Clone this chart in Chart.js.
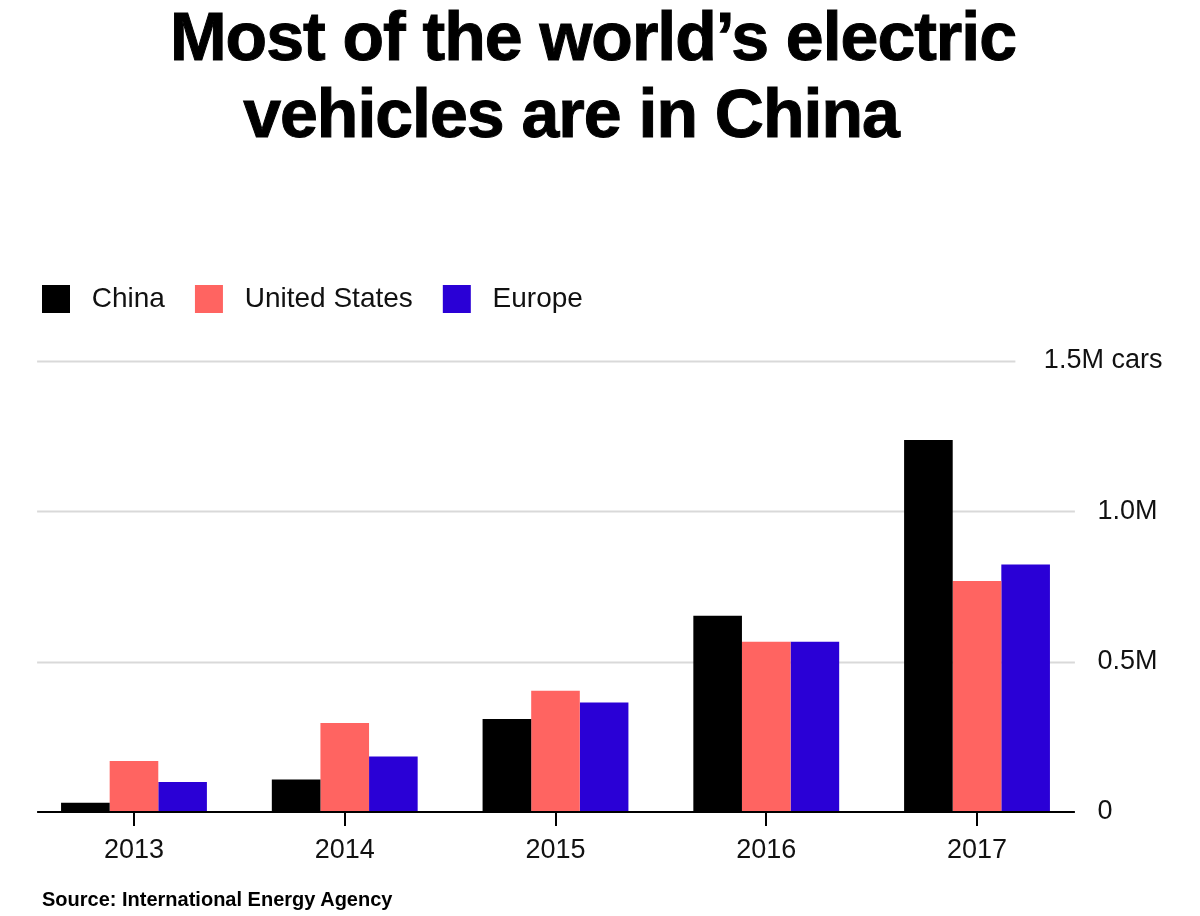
<!DOCTYPE html>
<html>
<head>
<meta charset="utf-8">
<script src="https://cdn.jsdelivr.net/npm/chart.js@4.4.1/dist/chart.umd.min.js"></script>
<style>
  html, body { margin: 0; padding: 0; background: #ffffff; }
  #wrap { position: relative; width: 1200px; height: 916px; overflow: hidden; background: #fff; }
  .title { position: absolute; left: 0; font-family: "Liberation Sans", Arial, sans-serif; font-weight: 700;
           font-size: 68px; line-height: 68px; letter-spacing: -1px; color: #000; text-align: center; white-space: nowrap;
           -webkit-text-stroke: 1px #000; }
  #t1 { top: 2px; width: 1186px; }
  #t2 { top: 79px; width: 1142px; }
  #source { position: absolute; left: 42px; top: 889px; font-family: "Liberation Sans", Arial, sans-serif;
            font-weight: 700; font-size: 20px; line-height: 20px; letter-spacing: 0px; color: #000; white-space: nowrap; }
  canvas { position: absolute; left: 0; top: 0; }
</style>
</head>
<body>
<div id="wrap">
  <canvas id="c" width="1200" height="916"></canvas>
  <div class="title" id="t1">Most of the world’s electric</div>
  <div class="title" id="t2">vehicles are in China</div>
  <div id="source">Source: International Energy Agency</div>
</div>
<script>
// ---- Data (millions of cars) ----
const categories = ['2013', '2014', '2015', '2016', '2017'];
const seriesNames = ['China', 'United States', 'Europe'];
const chinaValues = [0.031, 0.108, 0.309, 0.653, 1.237];
const usValues = [0.170, 0.296, 0.403, 0.566, 0.768];
const europeValues = [0.100, 0.185, 0.364, 0.566, 0.823];
const yTickValues = [0, 0.5, 1.0, 1.5];
const yTickLabels = ['0', '0.5M', '1.0M', '1.5M cars'];

const FONT = '"Liberation Sans", Arial, sans-serif';
const colors = ['#000000', '#FF6461', '#2A00D6'];

const gridPlugin = {
  id: 'customGrid',
  beforeDatasetsDraw(chart) {
    const { ctx, chartArea, scales } = chart;
    const y = scales.y;
    ctx.save();
    ctx.strokeStyle = '#d9d9d9';
    ctx.lineWidth = 2;
    yTickValues.forEach(v => {
      if (v === 0) return;
      const py = Math.round(y.getPixelForValue(v)) + 0.5;
      const right = v === yTickValues[yTickValues.length - 1] ? chartArea.right - 67 : chartArea.right - 7.5;
      ctx.beginPath();
      ctx.moveTo(chartArea.left + 8.5, py);
      ctx.lineTo(right, py);
      ctx.stroke();
    });
    ctx.restore();
  },
  afterDatasetsDraw(chart) {
    const { ctx, chartArea, scales } = chart;
    const y = scales.y;
    const py = Math.round(y.getPixelForValue(0));
    ctx.save();
    ctx.strokeStyle = '#000';
    ctx.lineWidth = 2;
    ctx.beginPath();
    ctx.moveTo(chartArea.left + 8.5, py);
    ctx.lineTo(chartArea.right - 7.5, py);
    ctx.stroke();
    // top label "1.5M cars", right-aligned at far edge
    const topV = yTickValues[yTickValues.length - 1];
    ctx.fillStyle = '#111';
    ctx.font = '27px ' + FONT;
    ctx.textAlign = 'right';
    ctx.textBaseline = 'middle';
    ctx.fillText(yTickLabels[yTickLabels.length - 1], chartArea.right + 80, y.getPixelForValue(topV));
    ctx.restore();
  }
};

new Chart(document.getElementById('c'), {
  type: 'bar',
  data: {
    labels: categories,
    datasets: [
      { label: seriesNames[0], data: chinaValues, backgroundColor: colors[0], xAxisID: 'x', yAxisID: 'y' },
      { label: seriesNames[1], data: usValues, backgroundColor: colors[1], xAxisID: 'x', yAxisID: 'y' },
      { label: seriesNames[2], data: europeValues, backgroundColor: colors[2], xAxisID: 'x', yAxisID: 'y' }
    ]
  },
  options: {
    responsive: false,
    animation: false,
    devicePixelRatio: 1,
    layout: { padding: { top: 255, left: 12, right: 0, bottom: 0 } },
    datasets: { bar: { barPercentage: 1.0, categoryPercentage: 0.692, borderWidth: 0 } },
    plugins: {
      legend: {
        display: true,
        position: 'top',
        align: 'start',
        labels: {
          font: { family: FONT, size: 28 },
          color: '#111',
          boxWidth: 28,
          boxHeight: 28,
          padding: 30,
          generateLabels(chart) {
            const items = Chart.defaults.plugins.legend.labels.generateLabels(chart);
            items.forEach(it => { it.text = ' ' + it.text; });
            return items;
          }
        }
      },
      tooltip: { enabled: false },
      title: { display: false }
    },
    scales: {
      x: {
        grid: { display: true, drawOnChartArea: false, drawTicks: true, tickLength: 14, color: '#000', lineWidth: 2, offset: false },
        border: { display: false },
        ticks: { font: { family: FONT, size: 27 }, color: '#111', padding: 8, maxRotation: 0 },
        afterFit(s) { s.height = 104; }
      },
      y: {
        type: 'linear', position: 'right', min: 0, max: 1.5,
        grid: { display: false, drawTicks: false },
        border: { display: false },
        afterBuildTicks(s) { s.ticks = yTickValues.map(v => ({ value: v })); },
        ticks: {
          font: { family: FONT, size: 27 }, color: '#111', padding: 15, crossAlign: 'near',
          callback(v) {
            const i = yTickValues.indexOf(v);
            if (i === yTickValues.length - 1) return '';
            return i >= 0 ? yTickLabels[i] : '';
          }
        },
        afterFit(s) { s.width = 117.6; }
      },
      xT: {
        type: 'category', position: 'top', display: true,
        grid: { display: false }, border: { display: false }, ticks: { display: false },
        afterFit(s) { s.height = 38; }
      },
      yL: {
        type: 'linear', position: 'left', display: true, min: 0, max: 1,
        grid: { display: false }, border: { display: false }, ticks: { display: false },
        afterFit(s) { s.width = 16.6; }
      }
    }
  },
  plugins: [gridPlugin]
});
</script>
</body>
</html>
